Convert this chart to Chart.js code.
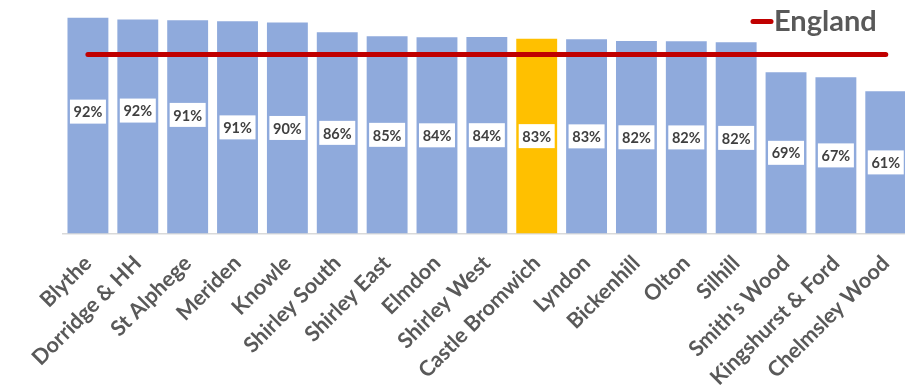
<!DOCTYPE html>
<html><head><meta charset="utf-8">
<script src="https://cdn.jsdelivr.net/npm/chart.js@4.4.0/dist/chart.umd.min.js"></script>
<style>html,body{margin:0;padding:0;background:#fff;overflow:hidden}#wrap{width:905px;height:387px;overflow:hidden}</style>
</head><body><div id="wrap"><canvas id="c" width="913" height="387"></canvas></div>
<script>
const categories = ["Blythe","Dorridge & HH","St Alphege","Meriden","Knowle","Shirley South","Shirley East","Elmdon","Shirley West","Castle Bromwich","Lyndon","Bickenhill","Olton","Silhill","Smith's Wood","Kingshurst & Ford","Chelmsley Wood"];
const wardValues = [92.4, 91.6, 91.3, 90.9, 90.4, 86.2, 84.5, 84.1, 84.2, 83.4, 83.2, 82.4, 82.3, 81.9, 69.1, 66.9, 60.9];
const englandValue = 76.7;
const englandSeries = categories.map(() => englandValue);
const highlightWard = "Castle Bromwich";

const BLUE = '#8FAADC', GOLD = '#FFC000', RED = '#C00000', GREY = '#595959';

const labelPlugin = {
  id: 'boxLabels',
  afterDatasetsDraw(chart, args, opts) {
    const ctx = chart.ctx;
    const meta = chart.getDatasetMeta(1);
    ctx.save();
    ctx.font = 'bold 14.5px Lato';
    ctx.textAlign = 'center';
    ctx.textBaseline = 'middle';
    meta.data.forEach((bar, i) => {
      const txt = Math.round(wardValues[i]) + '%';
      const shift = (opts.shift && opts.shift[i]) || 0;
      const cy = (bar.y + bar.base) / 2 + shift;
      const w = 36, h = 24;
      ctx.fillStyle = '#fff';
      ctx.fillRect(bar.x - w / 2, cy - h / 2, w, h);
      ctx.fillStyle = '#404040';
      ctx.fillText(txt, bar.x, cy + 1);
    });
    ctx.restore();
  },
  afterDraw(chart) {
    const ctx = chart.ctx;
    ctx.save();
    ctx.strokeStyle = RED;
    ctx.lineWidth = 5;
    ctx.lineCap = 'round';
    ctx.beginPath();
    ctx.moveTo(753, 21.5);
    ctx.lineTo(771, 21.5);
    ctx.stroke();
    ctx.fillStyle = GREY;
    ctx.font = 'bold 29px Lato';
    ctx.textAlign = 'left';
    ctx.textBaseline = 'alphabetic';
    ctx.fillText('England', 774, 31);
    ctx.restore();
  }
};

new Chart(document.getElementById('c'), {
  data: {
    labels: categories,
    datasets: [
      {
        type: 'line',
        label: 'England',
        data: englandSeries,
        borderColor: RED,
        borderWidth: 5,
        borderCapStyle: 'round',
        pointRadius: 0,
        fill: false,
        order: 0
      },
      {
        type: 'bar',
        label: 'Ward',
        data: wardValues,
        backgroundColor: categories.map(c => c === highlightWard ? GOLD : BLUE),
        categoryPercentage: 1,
        barPercentage: 0.82,
        order: 1
      }
    ]
  },
  options: {
    responsive: false,
    animation: false,
    layout: { padding: { left: 63, right: 0, top: 0, bottom: 0 } },
    plugins: {
      legend: { display: false },
      tooltip: { enabled: false },
      boxLabels: { shift: { 0: -14, 1: -16, 2: -12 } }
    },
    scales: {
      x: {
        grid: { display: false },
        border: { display: true, color: '#D9D9D9', width: 1.5 },
        ticks: {
          autoSkip: false,
          minRotation: 45,
          maxRotation: 45,
          color: GREY,
          padding: 9,
          font: { family: 'Lato', weight: 'bold', size: 21.5 }
        },
        afterFit(scale) { scale.height = 153.5; }
      },
      y: {
        display: false,
        min: 0,
        max: 100
      }
    }
  },
  plugins: [labelPlugin]
});
</script>
</body></html>
